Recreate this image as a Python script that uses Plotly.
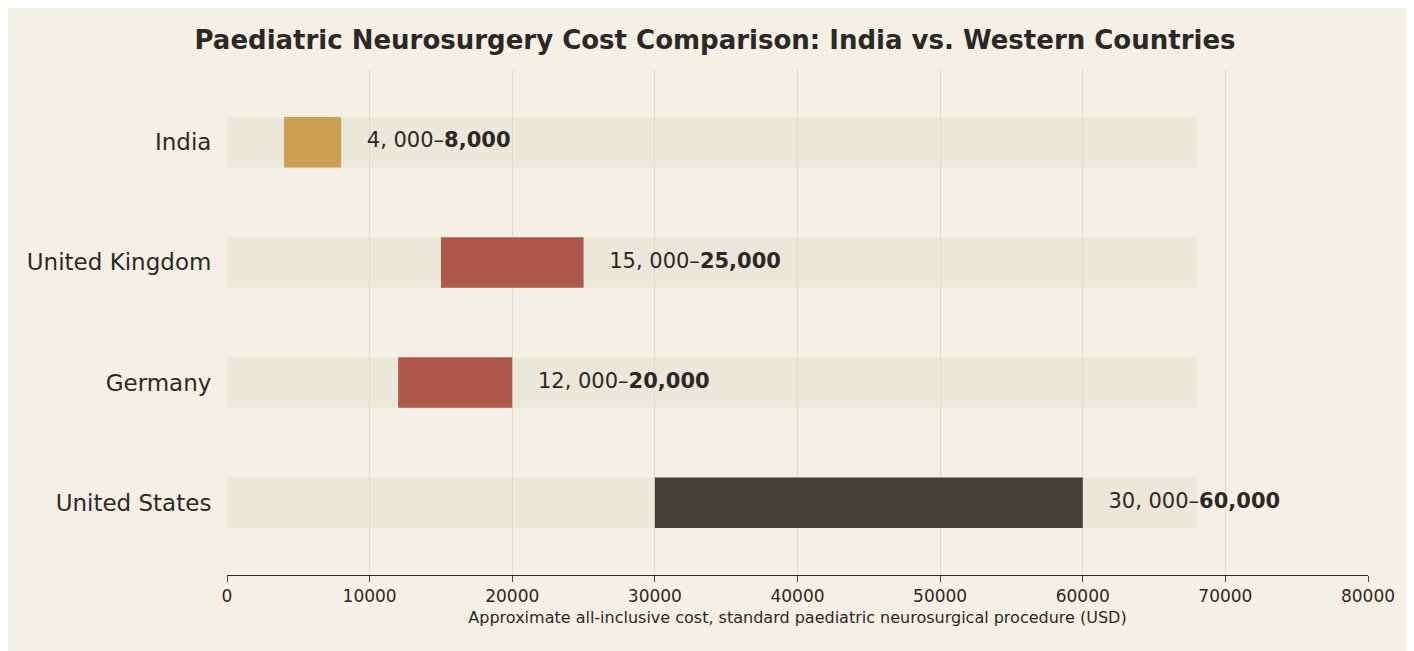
import plotly.graph_objects as go

# ---------------------------------
# Data
# ---------------------------------

countries = ["India", "United Kingdom", "Germany", "United States"]
low_cost = [4000, 15000, 12000, 30000]
high_cost = [8000, 25000, 20000, 60000]
bar_colors = ["#c99a45", "#a84c3e", "#a84c3e", "#34322d"]
track_end = 68000

labels = [f"{lo:,}".replace(",", ", ") + "–<b>" + f"{hi:,}" + "</b>"
          for lo, hi in zip(low_cost, high_cost)]

fig = go.Figure()

# background tracks
fig.add_trace(go.Bar(
    y=countries, x=[track_end] * len(countries), base=0,
    orientation="h", width=0.42,
    marker=dict(color="rgba(225,220,205,0.45)", line=dict(width=0)),
    hoverinfo="skip", showlegend=False,
))

# cost ranges
fig.add_trace(go.Bar(
    y=countries, x=[h - l for l, h in zip(low_cost, high_cost)], base=low_cost,
    orientation="h", width=0.42,
    marker=dict(color=bar_colors, opacity=0.92, line=dict(width=0)),
    showlegend=False,
))

fig.add_trace(go.Scatter(
    y=countries, x=[h + 1800 for h in high_cost],
    mode="text", text=labels, textposition="middle right",
    textfont=dict(size=21, color="#2b2924", family="DejaVu Sans"),
    showlegend=False, hoverinfo="skip",
))

fig.update_layout(
    barmode="overlay",
    title=dict(text="<b>Paediatric Neurosurgery Cost Comparison: India vs. Western Countries</b>",
               x=0.5, y=0.965, font=dict(size=26, color="#2b2924")),
    paper_bgcolor="#f5f0e6", plot_bgcolor="#f5f0e6",
    font=dict(family="DejaVu Sans", color="#2b2924"),
    margin=dict(l=219, r=54, t=62, b=84),
    width=1414, height=651,
)
fig.update_xaxes(
    range=[0, 80000], dtick=10000, tickformat="d",
    showgrid=True, gridcolor="rgba(200,195,180,0.5)", zeroline=False,
    showline=True, linecolor="#2b2924", ticks="outside", ticklen=6,
    tickfont=dict(size=17),
    title=dict(text="Approximate all-inclusive cost, standard paediatric neurosurgical procedure (USD)",
               font=dict(size=16), standoff=6),
)
fig.update_yaxes(
    categoryorder="array", categoryarray=countries[::-1],
    range=[-0.6, 3.6], showgrid=False, tickfont=dict(size=23), ticks="",
    ticksuffix="  ",
)

fig.write_html("out.html")
